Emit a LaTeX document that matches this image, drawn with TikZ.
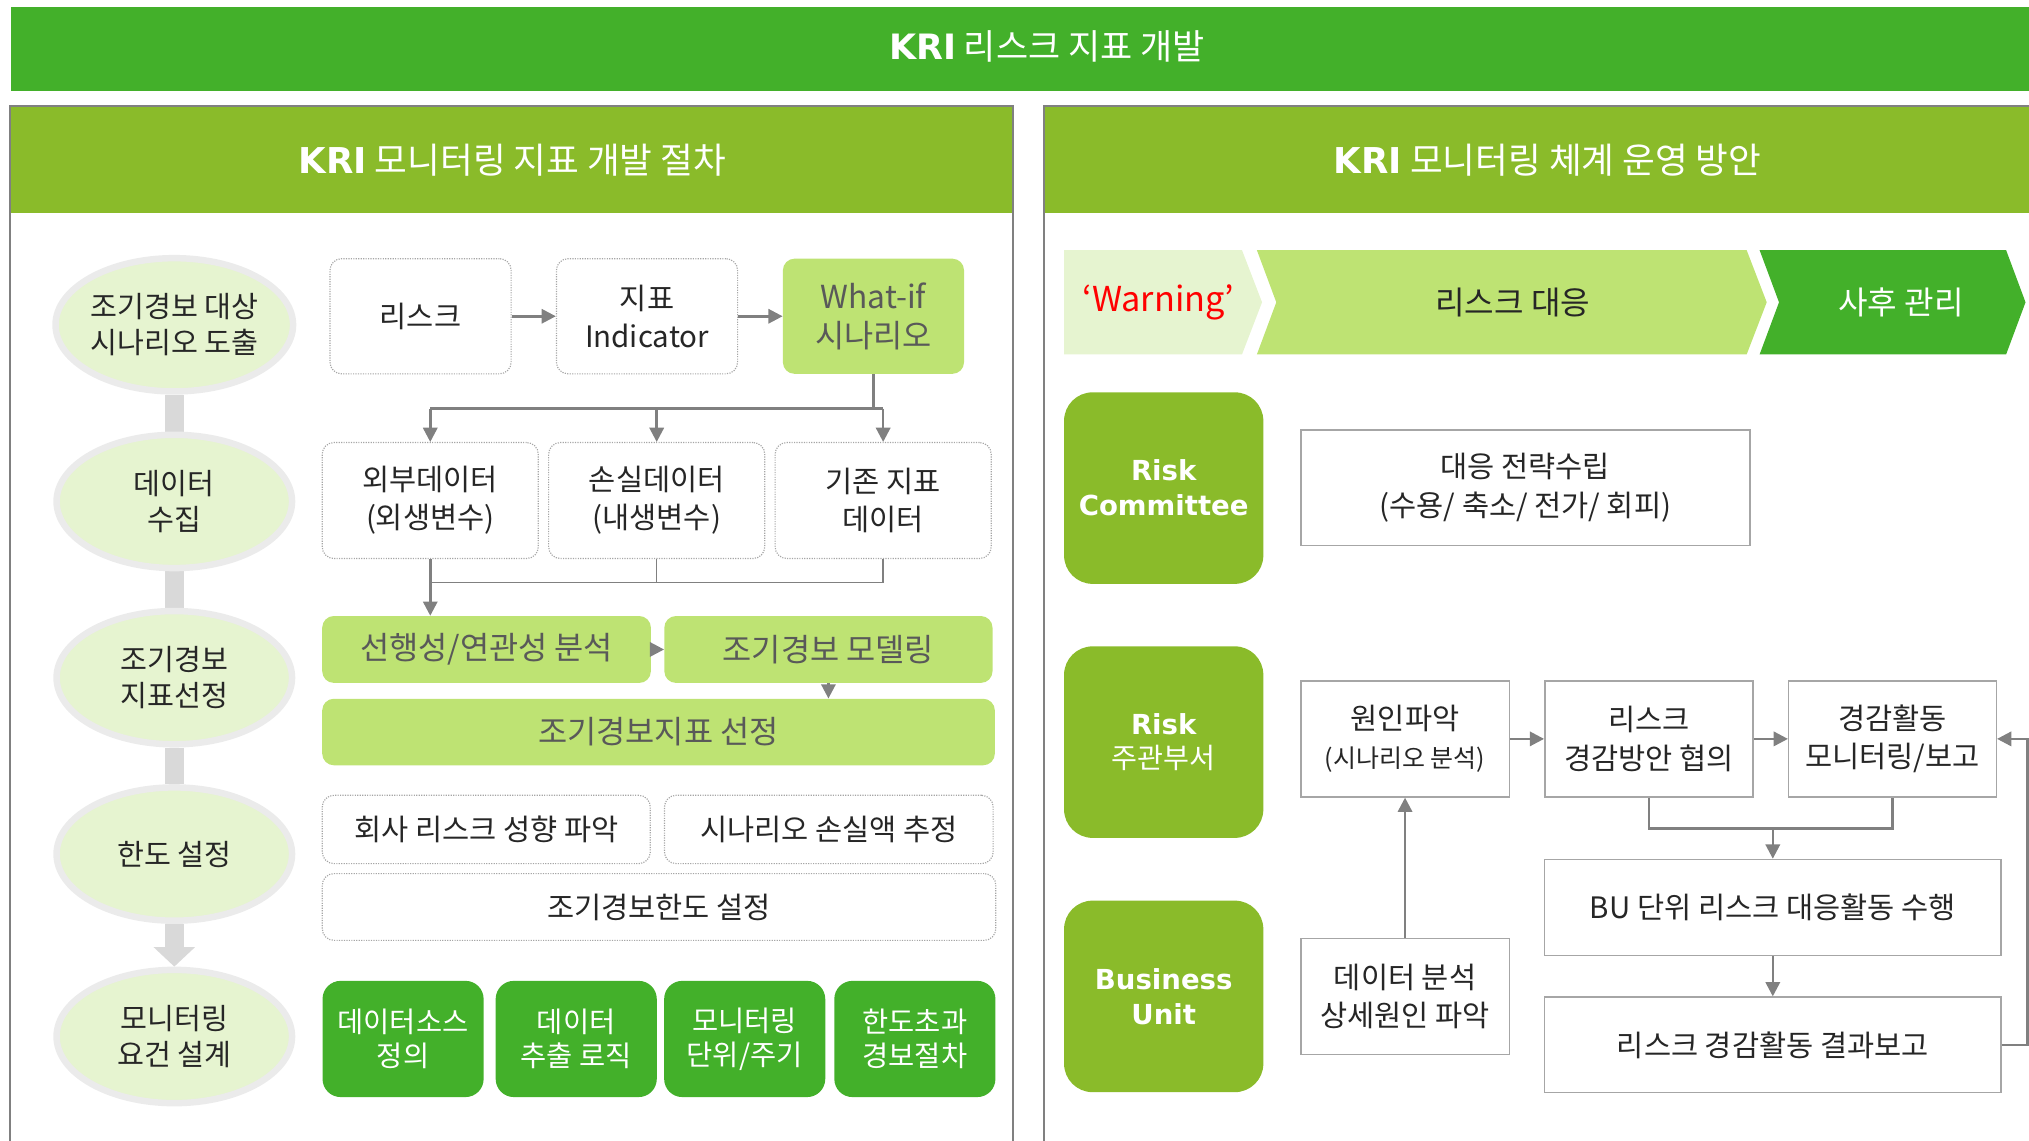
\documentclass[tikz,border=0pt]{standalone}
\usepackage{fontspec}
\setmainfont{Noto Sans CJK KR}
\newfontfamily\vbfont{DejaVu Sans}
\usetikzlibrary{shapes.geometric,arrows.meta,backgrounds,calc}

\definecolor{kgreen}{HTML}{43B02A}
\definecolor{kolive}{HTML}{8ABB2A}
\definecolor{klight}{HTML}{BEE373}
\definecolor{kpale}{HTML}{E6F4D0}
\definecolor{kring}{HTML}{EBEBEB}
\definecolor{kbar}{HTML}{D9D9D9}
\definecolor{kline}{HTML}{808080}
\definecolor{kedge}{HTML}{A6A6A6}
\definecolor{ktext}{HTML}{262626}
\definecolor{kgrey}{HTML}{595959}

\newcommand{\kfont}[2]{\fontsize{#1}{#2}\selectfont}

\tikzset{
  stage/.style={ellipse, fill=kpale, draw=kring, line width=5pt, inner sep=0pt, minimum width=182pt, minimum height=103pt, align=center, text=ktext, font=\kfont{22.6}{27.5}},
  dotbox/.style={rounded corners=9pt, draw=kedge, densely dotted, line width=0.9pt, inner sep=0pt, align=center, text=ktext, font=\kfont{22.8}{29.5}},
  litebox/.style={rounded corners=9pt, fill=klight, inner sep=0pt, align=center, text=kgrey, font=\kfont{24.5}{30}},
  darkbox/.style={rounded corners=14pt, fill=kgreen, inner sep=0pt, minimum width=124.5pt, minimum height=89.8pt, align=center, text=white, font=\kfont{22}{26}},
  rolebox/.style={rounded corners=22pt, fill=kolive, inner sep=0pt, minimum width=154pt, minimum height=148pt, align=center, text=white, font=\vbfont\bfseries\kfont{21.3}{27}},
  plainbox/.style={draw=kedge, line width=1.1pt, fill=white, inner sep=0pt, align=center, text=ktext, font=\kfont{22.8}{29.5}},
  headtext/.style={text=white, font=\kfont{27.5}{32}},
  conn/.style={draw=kline, line width=2pt},
  thinconn/.style={draw=kline, line width=1.2pt},
  arr/.style={conn, -{Triangle[length=11pt,width=11pt]}},
}

\begin{document}
\begin{tikzpicture}[x=1pt, y=-1pt]
\useasboundingbox (0,0) rectangle (1568,881);
\clip (0,0) rectangle (1568,881);

\fill[kgreen] (8.5,5.7) rectangle (1580,70.1);
\node[headtext, font=\kfont{27}{32}] (title) at (809,36) {{\vbfont\bfseries KRI} 리스크 지표 개발};

\fill[kolive] (7.5,82) rectangle (782.5,164.4);
\draw[kline, line width=1.5pt] (7.5,900) -- (7.5,82) -- (782.5,82) -- (782.5,900);
\node[headtext] (lefthead) at (396,123.7) {{\vbfont\bfseries KRI} 모니터링 지표 개발 절차};

\fill[kolive] (806.5,82) rectangle (1580,164.4);
\draw[kline, line width=1.5pt] (806.5,900) -- (806.5,82) -- (1580,82);
\node[headtext] (righthead) at (1196,123.7) {{\vbfont\bfseries KRI} 모니터링 체계 운영 방안};

\node[stage] (s1) at (134.7,251) {조기경보 대상\\시나리오 도출};
\node[stage] (s2) at (134.7,387.5) {데이터\\수집};
\node[stage] (s3) at (134.7,523.7) {조기경보\\지표선정};
\node[stage] (s4) at (134.7,660) {한도 설정};
\node[stage] (s5) at (134.7,801) {모니터링\\요건 설계};
\begin{scope}[on background layer]
\draw[kbar, line width=15pt] (s1.south) -- (s2.north) (s2.south) -- (s3.north) (s3.south) -- (s4.north);
\draw[kbar, line width=15pt, -{Triangle[length=15pt,width=31pt]}] (s4.south) -- (s5.north);
\end{scope}

\node[dotbox, minimum width=140pt, minimum height=89pt] (risk) at (325,244.4) {리스크};
\node[dotbox, minimum width=140pt, minimum height=89pt] (ind) at (500,244.4) {지표\\Indicator};
\node[litebox, minimum width=140pt, minimum height=89pt] (whatif) at (675,244.4) {What-if\\시나리오};
\node[dotbox, minimum width=167pt, minimum height=89.6pt] (ext) at (332.5,386.8) {외부데이터\\(외생변수)};
\node[dotbox, minimum width=167pt, minimum height=89.6pt] (loss) at (507.5,386.8) {손실데이터\\(내생변수)};
\node[dotbox, minimum width=167pt, minimum height=89.6pt] (base) at (682.5,386.8) {기존 지표\\데이터};
\node[litebox, minimum width=254pt, minimum height=51.7pt] (lead) at (376,501.9) {선행성/연관성 분석};
\node[litebox, minimum width=253.6pt, minimum height=51.7pt] (model) at (640.2,501.9) {조기경보 모델링};
\node[litebox, minimum width=519.8pt, minimum height=51.4pt] (pick) at (508.9,565.7) {조기경보지표 선정};
\node[dotbox, minimum width=253.5pt, minimum height=52.8pt] (appetite) at (375.8,641) {회사 리스크 성향 파악};
\node[dotbox, minimum width=254pt, minimum height=52.8pt] (lossest) at (640.5,641) {시나리오 손실액 추정};
\node[dotbox, minimum width=520.5pt, minimum height=51.6pt] (limit) at (509.3,700.9) {조기경보한도 설정};
\node[darkbox] (src) at (311.5,802.9) {데이터소스\\정의};
\node[darkbox] (extract) at (445.3,802.9) {데이터\\추출 로직};
\node[darkbox] (freq) at (575.5,802.9) {모니터링\\단위/주기};
\node[darkbox] (alarm) at (707,802.9) {한도초과\\경보절차};

\draw[arr] (risk.east) -- (ind.west);
\draw[arr] (ind.east) -- (whatif.west);
\draw[conn] (whatif.south) -- ++(0,26.7) coordinate (fork);
\draw[conn] (fork -| ext.north) -- (fork -| base.north);
\draw[arr] (fork -| ext.north) -- (ext.north);
\draw[arr] (fork -| loss.north) -- (loss.north);
\draw[arr] (fork -| base.north) -- (base.north);
\draw[thinconn] (loss.south) -- ++(0,18) coordinate (merge);
\draw[thinconn] (base.south) |- (merge -| ext.south);
\draw[arr] (ext.south) -- (ext.south |- lead.north);
\draw[arr] (lead.east) -- (model.west);
\draw[arr] (model.south) -- (model.south |- pick.north);

\fill[kpale] (822.3,193.3) -- (959.8,193.3) -- (975.3,233.6) -- (959.8,273.9) -- (822.3,273.9) -- cycle;
\fill[klight] (971.3,193.3) -- (1349.8,193.3) -- (1365.3,233.6) -- (1349.8,273.9) -- (971.3,273.9) -- (986.3,233.6) -- cycle;
\fill[kgreen] (1359.8,193.3) -- (1550.3,193.3) -- (1565.3,233.6) -- (1550.3,273.9) -- (1359.8,273.9) -- (1374.8,233.6) -- cycle;
\node[font=\kfont{26.5}{30}, text=red] (warn) at (895,233.6) {‘Warning’};
\node[font=\kfont{24.8}{30}, text=ktext] (resp) at (1169,233.6) {리스크 대응};
\node[font=\kfont{24.8}{30}, text=white] (after) at (1469,233.6) {사후 관리};

\node[rolebox] (rc) at (899.3,377.2) {Risk\\Committee};
\node[rolebox] (owner) at (899.3,573.5) {Risk\\{\normalfont\kfont{21.8}{27}주관부서}};
\node[rolebox] (bu) at (899.3,770) {Business\\Unit};

\node[plainbox, minimum width=347pt, minimum height=88.9pt] (plan) at (1178.8,376.9) {대응 전략수립\\(수용/ 축소/ 전가/ 회피)};
\node[plainbox, minimum width=161pt, minimum height=89.7pt] (cause) at (1085.8,571) {원인파악\\{\kfont{19.3}{24}(시나리오 분석)}};
\node[plainbox, minimum width=161pt, minimum height=89.7pt] (mitig) at (1274.3,571) {리스크\\경감방안 협의};
\node[plainbox, minimum width=160.5pt, minimum height=89.7pt] (monit) at (1462.5,571) {경감활동\\모니터링/보고};
\node[plainbox, minimum width=352.5pt, minimum height=74.1pt] (act) at (1370,701.2) {BU 단위 리스크 대응활동 수행};
\node[plainbox, minimum width=352.5pt, minimum height=73.9pt] (report) at (1370,807.5) {리스크 경감활동 결과보고};
\node[plainbox, minimum width=161pt, minimum height=89.4pt] (probe) at (1085.8,770.1) {데이터 분석\\상세원인 파악};

\draw[arr] (cause.east) -- (mitig.west);
\draw[arr] (mitig.east) -- (monit.west);
\draw[conn] (mitig.south) -- ++(0,24) coordinate (mj) -| (monit.south);
\draw[arr] (mj -| act.north) -- (act.north);
\draw[arr] (act.south) -- (report.north);
\draw[arr] (probe.north) -- (cause.south);
\draw[arr] (report.east) -- ++(20,0) |- (monit.east);
\end{tikzpicture}
\end{document}
